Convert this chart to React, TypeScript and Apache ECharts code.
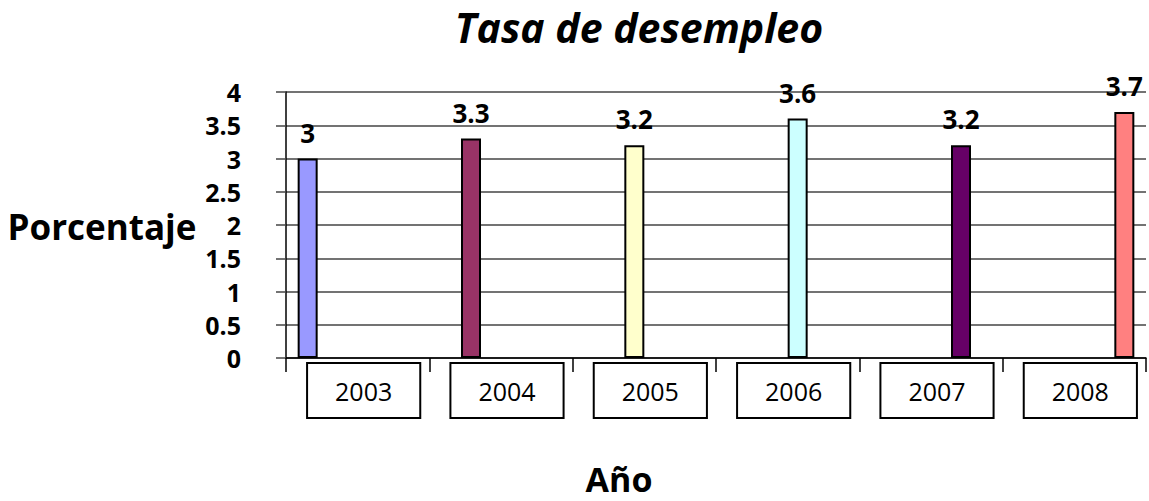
import React, { useEffect, useRef } from "react";
import * as echarts from "echarts";

const years = ["2003", "2004", "2005", "2006", "2007", "2008"];
const values = [3, 3.3, 3.2, 3.6, 3.2, 3.7];
const barColors = ["#9999FF", "#993366", "#FFFFCC", "#CCFFFF", "#660066", "#FF8080"];
const yTicks = { min: 0, max: 4, interval: 0.5 };
const titleText = "Tasa de desempleo";
const yName = "Porcentaje";
const xName = "Año";

const FONT = "'Open Sans', sans-serif";

export default function App() {
  const ref = useRef<HTMLDivElement>(null);
  useEffect(() => {
    if (!ref.current) return;
    const chart = echarts.init(ref.current, null, { renderer: "svg" });
    const series = years.map((y, i) => ({
      type: "bar",
      name: y,
      data: years.map((_, j) => (j === i ? values[i] : null)),
      barWidth: 20,
      barGap: "0%",
      itemStyle: { color: barColors[i], borderColor: "#000", borderWidth: 2 },
      label: {
        show: true,
        position: "top",
        distance: 13,
        fontFamily: FONT,
        fontWeight: "bold",
        fontSize: 26,
        color: "#000",
      },
    }));
    chart.setOption({
      animation: false,
      backgroundColor: "#fff",
      grid: { left: 286, right: 3, top: 92, bottom: 143, containLabel: false },
      xAxis: {
        type: "category",
        data: years,
        boundaryGap: true,
        axisLine: { show: true, lineStyle: { color: "#000", width: 1.5 } },
        axisTick: { show: true, length: 14, lineStyle: { color: "#000", width: 1.5 } },
        axisLabel: {
          margin: 6,
          formatter: (v: string) => `{s|}{b|${v}}`,
          rich: {
            s: { width: 12 },
            b: {
              fontFamily: FONT,
              fontSize: 25,
              color: "#000",
              backgroundColor: "#fff",
              borderColor: "#000",
              borderWidth: 2,
              padding: [14, 27, 14, 27],
            },
          },
        },
      },
      yAxis: {
        type: "value",
        min: yTicks.min,
        max: yTicks.max,
        interval: yTicks.interval,
        axisLine: { show: true, lineStyle: { color: "#000", width: 1.5 } },
        axisTick: { show: true, length: 10, lineStyle: { color: "#444", width: 1.5 } },
        splitLine: { show: true, lineStyle: { color: "#444", width: 1.5 } },
        axisLabel: {
          margin: 45,
          fontFamily: FONT,
          fontWeight: "bold",
          fontSize: 25,
          color: "#000",
        },
      },
      graphic: [
        {
          type: "text",
          x: 639,
          y: 27,
          style: {
            text: titleText,
            fontFamily: FONT,
            fontStyle: "italic",
            fontWeight: "bold",
            fontSize: 41,
            fill: "#000",
            textAlign: "center",
            textVerticalAlign: "middle",
          },
        },
        {
          type: "text",
          x: 102,
          y: 226,
          style: {
            text: yName,
            fontFamily: FONT,
            fontWeight: "bold",
            fontSize: 35,
            fill: "#000",
            textAlign: "center",
            textVerticalAlign: "middle",
          },
        },
        {
          type: "text",
          x: 619,
          y: 479,
          style: {
            text: xName,
            fontFamily: FONT,
            fontWeight: "bold",
            fontSize: 34,
            fill: "#000",
            textAlign: "center",
            textVerticalAlign: "middle",
          },
        },
      ],
      series,
    });
    return () => chart.dispose();
  }, []);
  return (
    <div
      ref={ref}
      style={{ position: "fixed", left: 0, top: 0, width: 1149, height: 501 }}
    />
  );
}
